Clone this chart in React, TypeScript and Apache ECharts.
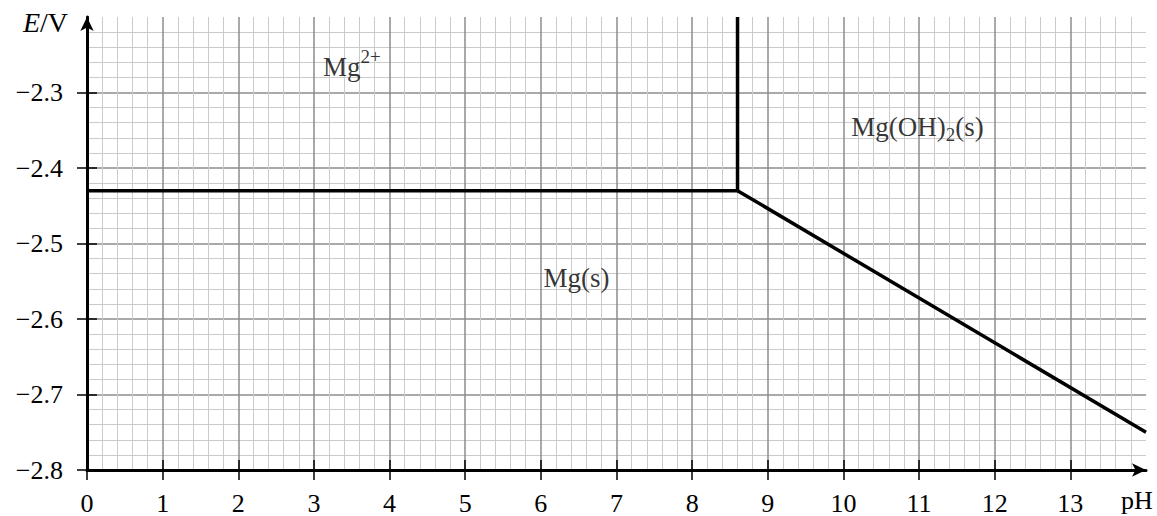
import React, { useEffect, useRef } from "react";
import * as echarts from "echarts";

const X_TICKS = [0, 1, 2, 3, 4, 5, 6, 7, 8, 9, 10, 11, 12, 13];
const Y_TICKS = [-2.8, -2.7, -2.6, -2.5, -2.4, -2.3];
const LINE_MG2_MG = [[0, -2.43], [8.6, -2.43]];
const LINE_MG2_OH = [[8.6, -2.43], [8.6, -2.2]];
const LINE_OH_MG = [[8.6, -2.43], [14, -2.75]];
const REGION_NAMES = ["{m|Mg}{sup|2+}", "{m|Mg(OH)}{sub|2}{m|(s)}", "{m|Mg(s)}"];
const REGION_POS = [[3.5, -2.266], [10.98, -2.346], [6.47, -2.546]];

const FONT = "Liberation Serif";
const MAJOR = "#8c8c8c";
const MINOR = "#cbcbcb";

export default function App() {
  const ref = useRef<HTMLDivElement>(null);
  useEffect(() => {
    document.body.style.margin = "0";
    const chart = echarts.init(ref.current!, null, { renderer: "svg" });
    const lineSeries = (data: number[][]) => ({
      type: "line",
      data,
      symbol: "none",
      lineStyle: { color: "#000", width: 3.5 },
      z: 5,
    });
    chart.setOption({
      animation: false,
      grid: { left: 87, right: 11, top: 17, bottom: 45 },
      xAxis: [
        {
          type: "value",
          min: 0,
          max: 14,
          interval: 1,
          axisLine: { show: true, onZero: false, symbol: ["none", "arrow"], symbolSize: [10, 14], lineStyle: { color: "#000", width: 3 } },
          axisTick: { show: true, length: 10, customValues: X_TICKS, lineStyle: { color: "#000", width: 1.5 } },
          axisLabel: { customValues: X_TICKS, margin: 20, fontSize: 26, color: "#000", fontFamily: FONT },
          splitLine: { show: true, lineStyle: { color: MAJOR, width: 1.5 } },
          minorTick: { show: false, splitNumber: 5 },
          minorSplitLine: { show: true, lineStyle: { color: MINOR, width: 1 } },
          z: 3,
        },
        {
          type: "value",
          min: 0,
          max: 14,
          interval: 1,
          position: "bottom",
          axisLine: { show: false },
          axisTick: { show: true, inside: true, length: 10, customValues: X_TICKS, lineStyle: { color: "#000", width: 1.5 } },
          axisLabel: { show: false },
          splitLine: { show: false },
          z: 3,
        },
      ],
      yAxis: [
        {
          type: "value",
          min: -2.8,
          max: -2.2,
          interval: 0.1,
          axisLine: { show: true, onZero: false, symbol: ["none", "arrow"], symbolSize: [10, 14], lineStyle: { color: "#000", width: 3 } },
          axisTick: { show: true, length: 10, customValues: Y_TICKS, lineStyle: { color: "#000", width: 1.5 } },
          axisLabel: {
            customValues: Y_TICKS,
            margin: 24,
            fontSize: 26,
            color: "#000",
            fontFamily: FONT,
            formatter: (v: number) => v.toFixed(1).replace("-", "\u2212"),
          },
          splitLine: { show: true, lineStyle: { color: MAJOR, width: 1.5 } },
          minorTick: { show: false, splitNumber: 5 },
          minorSplitLine: { show: true, lineStyle: { color: MINOR, width: 1 } },
          z: 3,
        },
        {
          type: "value",
          min: -2.8,
          max: -2.2,
          interval: 0.1,
          position: "left",
          axisLine: { show: false },
          axisTick: { show: true, inside: true, length: 10, customValues: Y_TICKS, lineStyle: { color: "#000", width: 1.5 } },
          axisLabel: { show: false },
          splitLine: { show: false },
          z: 3,
        },
      ],
      graphic: [
        {
          type: "text",
          left: 23,
          top: 8,
          style: {
            text: "{i|E}/V",
            rich: {
              i: { fontSize: 28, fontStyle: "italic", fontFamily: FONT, fill: "#000" },
            },
            fontSize: 28,
            fontFamily: FONT,
            fill: "#000",
          },
        },
        {
          type: "text",
          left: 1121,
          top: 487,
          style: { text: "pH", fontSize: 26, fontFamily: FONT, fill: "#000" },
        },
      ],
      series: [
        lineSeries(LINE_MG2_MG),
        lineSeries(LINE_MG2_OH),
        lineSeries(LINE_OH_MG),
        {
          type: "scatter",
          symbolSize: 0,
          z: 6,
          data: REGION_POS.map((p, i) => ({ value: p, name: REGION_NAMES[i] })),
          label: {
            show: true,
            position: "inside",
            formatter: (p: any) => p.name,
            rich: {
              m: { fontSize: 27, lineHeight: 40, fontFamily: FONT, color: "#000" },
              sup: { fontSize: 19, lineHeight: 19, verticalAlign: "top", fontFamily: FONT, color: "#000" },
              sub: { fontSize: 19, lineHeight: 19, verticalAlign: "bottom", fontFamily: FONT, color: "#000", padding: [0, 0, 3, 0] },
            },
          },
        },
      ],
    });
    return () => chart.dispose();
  }, []);
  return <div ref={ref} style={{ width: 1157, height: 516 }} />;
}
